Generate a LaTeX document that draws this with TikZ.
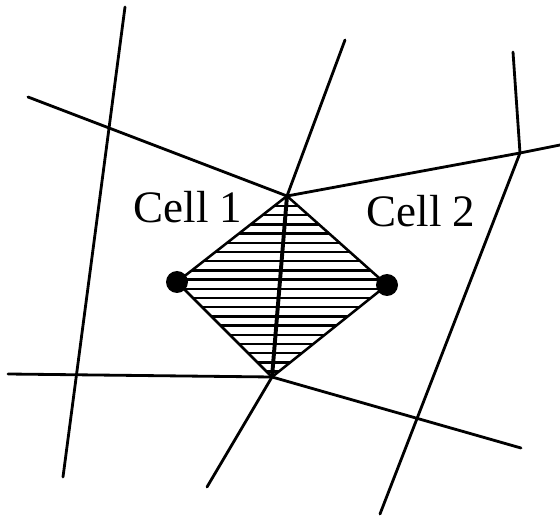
\documentclass[tikz,border=0pt]{standalone}
\usepackage{fontspec}
\setmainfont{Liberation Serif}
\begin{document}
\begin{tikzpicture}[x=0.025cm, y=-0.025cm,
    linea/.style={line width=2pt, line cap=round, line join=round},
    rayado/.style={line width=1.6pt},
    celda/.style={font=\fontsize{32}{32}\selectfont, anchor=base, inner sep=0pt}]
    \useasboundingbox (0,0) rectangle (560,518);

    % --- VERTICES DE LA MALLA ---
    \coordinate (T) at (287,196);   % vertice superior de la cara comun
    \coordinate (B) at (272,377);   % vertice inferior de la cara comun
    \coordinate (J) at (520,153);   % esquina derecha
    \coordinate (L) at (177,282);   % centro celda 1
    \coordinate (R) at (387,285);   % centro celda 2

    % Extremos libres de las aristas
    \coordinate (A1) at (125,7);
    \coordinate (A2) at (63,477);
    \coordinate (B1) at (28,97);
    \coordinate (C1) at (345,40);
    \coordinate (D1) at (560,145);
    \coordinate (E1) at (513,52);
    \coordinate (E2) at (380,514);
    \coordinate (F1) at (8,374);
    \coordinate (G1) at (521,448);
    \coordinate (H1) at (207,487);

    % --- RAYADO DEL VOLUMEN DUAL ---
    \begin{scope}
        \clip (T) -- (R) -- (B) -- (L) -- cycle;
        \foreach \y in {0,...,18}
            \draw[rayado] (150,206+9.2*\y) -- (420,206+9.2*\y);
    \end{scope}
    \draw[line width=1.8pt, line join=round] (T) -- (R) -- (B) -- (L) -- cycle;

    % --- ARISTAS ---
    \draw[linea] (A1) -- (A2);
    \draw[linea] (B1) -- (T);
    \draw[linea] (C1) -- (T);
    \draw[linea] (T) -- (J) -- (D1);
    \draw[linea] (E1) -- (J) -- (E2);
    \draw[linea] (F1) -- (B);
    \draw[linea] (B) -- (G1);
    \draw[linea] (B) -- (H1);
    \draw[line width=2.8pt] (T) -- (B); % cara comun

    % --- CENTROS DE CELDA ---
    \fill (L) circle (11);
    \fill (R) circle (11);

    \node[celda] (c1) at (188,223) {Cell 1};
    \node[celda] (c2) at (421,227) {Cell 2};

\end{tikzpicture}
\end{document}
